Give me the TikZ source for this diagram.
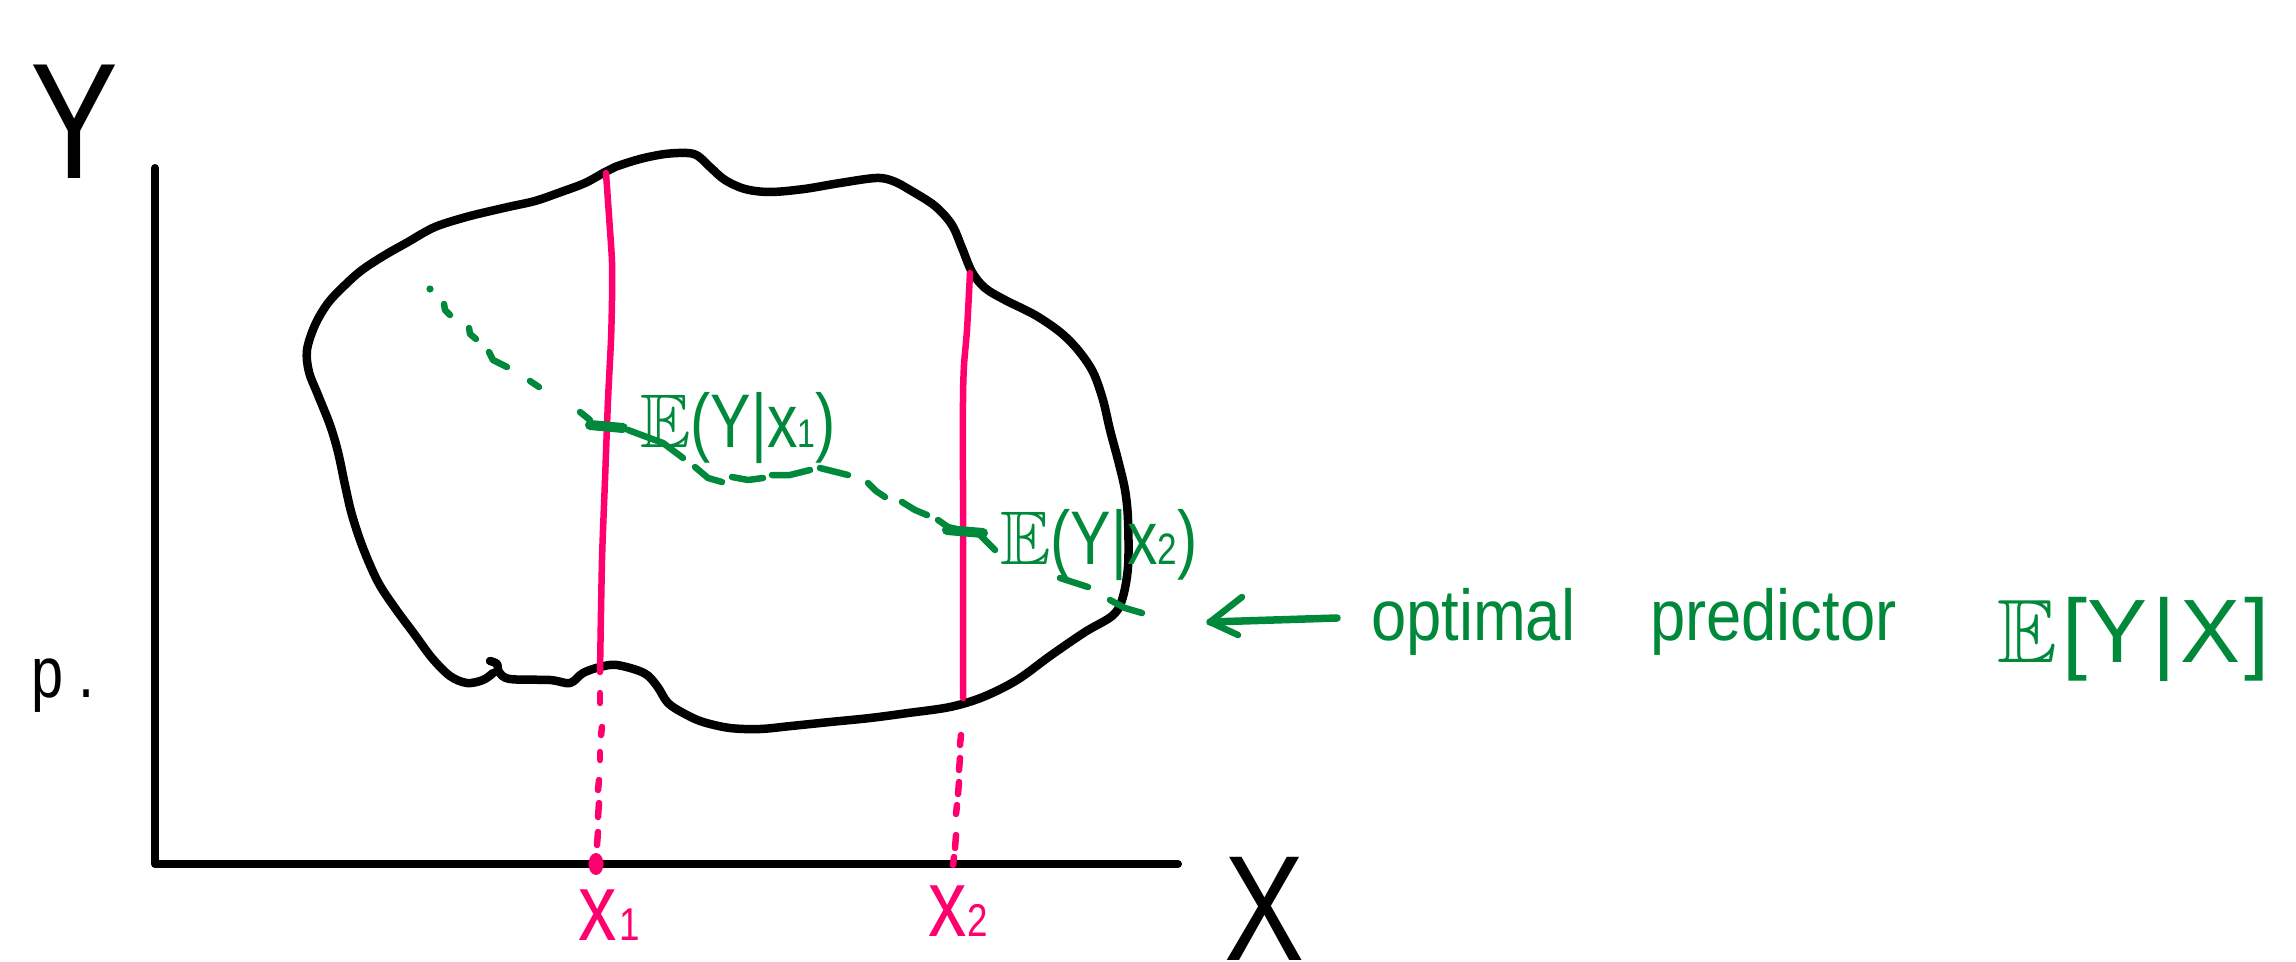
\documentclass[tikz,border=0pt]{standalone}
\usepackage{amssymb}
\usepackage{fontspec}
\newfontfamily\hand[FakeStretch=0.8]{Liberation Sans}
\newfontfamily\handm[FakeStretch=0.88]{Liberation Sans}
\newfontfamily\handw{Liberation Sans}
\definecolor{pk}{RGB}{255,0,110}
\definecolor{gr}{RGB}{0,137,58}
\newcommand{\smalldigit}[2]{{\fontsize{#1}{#1}\selectfont #2}}
\begin{document}
\begin{tikzpicture}[x=1pt,y=-1pt, line cap=round, line join=round,
  blob/.style={line width=8.5pt, black},
  axis/.style={line width=8pt, black},
  pline/.style={line width=6.5pt, pk},
  gdash/.style={line width=6.5pt, gr},
  gmark/.style={line width=10pt, gr},
  lab/.style={inner sep=0pt, outer sep=0pt}]
\useasboundingbox (0,0) rectangle (2296,961);

% axes
\coordinate (O) at (155,864);
\coordinate (ytop) at (155,168);
\coordinate (xend) at (1178,864);
\draw[axis] (ytop) -- (O) -- (xend);

% blob
\draw[blob] plot[smooth, tension=0.55] coordinates {
(490,661) (497,664) (499,672) (510,679) (550,680) (570,683) (583,673) (600,667)
(617,665) (644,673) (657,686) (668,703) (685,714) (703,722) (730,728) (760,729)
(791,726) (830,722) (870,718) (908,713) (950,707) (983,697) (1017,680) (1050,656)
(1085,632) (1112,616) (1122,600) (1128,567) (1128,520) (1125,490) (1118,460)
(1110,430) (1103,400) (1093,372) (1078,350) (1060,332) (1035,315) (1005,300)
(985,288) (972,272) (962,248) (952,225) (935,206) (910,190) (893,181) (876,178)
(840,183) (804,189) (770,192) (745,189) (725,180) (710,167) (698,156) (687,153)
(665,154) (640,159) (615,167) (605,172) (585,183) (561,192) (535,201) (508,207)
(470,216) (440,225) (425,232) (408,242) (385,255) (362,270) (345,285) (328,303)
(315,325) (307,350) (309,372) (318,395) (330,425) (338,452) (345,485) (352,515)
(363,548) (378,582) (395,608) (415,635) (432,658) (450,676) (467,683) (483,680)
(493,673)};

% pink verticals
\draw[pline] plot[smooth, tension=0.4] coordinates {(606,173) (610,230) (612,262) (612,300) (611,340) (608,400) (605,480) (602,560) (600,672)};
\draw[pline] plot[smooth, tension=0.4] coordinates {(970,273) (967,330) (964,365) (963,400) (963,500) (963,600) (963,698)};
% pink dashes x1
\foreach \a/\b/\c/\d in {600/693/600/703, 602/727/601/735, 600/752/600/760, 599/780/598/790, 599/803/598/817, 598/832/597/845}
  \draw[pline] (\a,\b) -- (\c,\d);
\fill[pk] (596,864) ellipse [x radius=7.5, y radius=11];
% pink dashes x2
\foreach \a/\b/\c/\d in {961/735/960/745, 960/758/959/770, 959/782/958/794, 957/805/956/814, 956/835/955/848, 954/857/953/865}
  \draw[pline] (\a,\b) -- (\c,\d);

% green dashed curve (hand dashes)
\fill[gr] (430,289) circle (3.6);
\draw[gdash] (444,304) -- (445,310) -- (450,315);
\draw[gdash] (469,328) -- (470,334) -- (476,339);
\draw[gdash] (489,352) -- (493,360) -- (507,367);
\draw[gdash] (530,381) -- (539,387);
\draw[gdash] (580,412) -- (590,420);
\draw[gmark] (590,425) -- (623,428);
\draw[gdash] (628,430) -- (663,443) -- (683,458);
\draw[gdash] (695,467) -- (708,478) -- (722,482);
\draw[gdash] (732,477) -- (748,480) -- (763,478);
\draw[gdash] (772,475) -- (790,475) -- (810,470);
\draw[gdash] (820,468) -- (848,475);
\draw[gdash] (868,483) -- (876,491) -- (885,497);
\draw[gdash] (902,502) -- (915,510) -- (927,515);
\draw[gdash] (938,520) -- (948,527) -- (960,530);
\draw[gmark] (947,530) -- (983,533);
\draw[gdash] (980,535) -- (995,550);
\draw[gdash] (1060,578) -- (1088,587);
\draw[gdash] (1110,600) -- (1125,608) -- (1142,613);

% arrow
\coordinate (arrtail) at (1337,618);
\coordinate (arrtip) at (1210,622);
\coordinate (barb1) at (1242,597);
\coordinate (barb2) at (1238,635);
\draw[gdash, line width=7.5pt] (arrtail) -- (arrtip);
\draw[gdash] (barb1) -- (arrtip) -- (barb2);

% labels
\node[lab, font=\hand\fontsize{165}{165}\selectfont] (ylab) at (75,122) {Y};
\node[lab, anchor=base west, font=\hand\fontsize{72}{72}\selectfont] (plab) at (31,697) {p\kern16pt.};
\node[lab, anchor=north, font=\hand\fontsize{150}{150}\selectfont] (xlab) at (1265,857) {X};
\node[lab, anchor=base west, text=pk, font=\hand\fontsize{96}{96}\selectfont] (x1lab) at (578,940) {x\kern3pt\smalldigit{46}{1}};
\node[lab, anchor=base west, text=pk, font=\hand\fontsize{96}{96}\selectfont] (x2lab) at (928,936) {x\kern1pt\smalldigit{46}{2}};
\node[lab, anchor=base west, text=gr, font=\hand\fontsize{76}{76}\selectfont] (e1lab) at (640,447) {$\mathbb{E}$(Y|x\smalldigit{40}{1})};
\node[lab, anchor=base west, text=gr, font=\hand\fontsize{76}{76}\selectfont] (e2lab) at (1000,564) {$\mathbb{E}$(Y|x\smalldigit{44}{2})};
\node[lab, anchor=base west, text=gr, font=\handm\fontsize{72}{72}\selectfont] (opt) at (1371,640) {optimal};
\node[lab, anchor=base west, text=gr, font=\handm\fontsize{72}{72}\selectfont] (pred) at (1650,640) {predictor};
\node[lab, anchor=base west, text=gr, font=\handw\fontsize{90}{90}\selectfont] (eyx) at (1997,662) {$\mathbb{E}$\kern5pt[Y\kern5pt|\kern5pt X\kern4pt]};
\end{tikzpicture}
\end{document}
